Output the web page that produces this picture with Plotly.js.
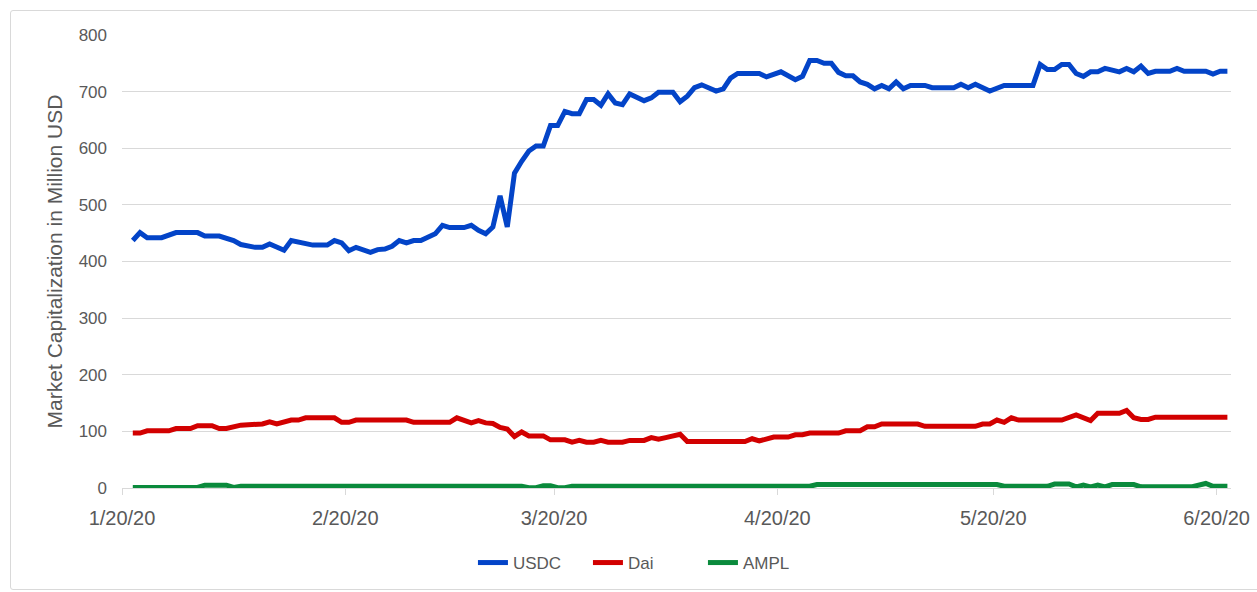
<!DOCTYPE html>
<html>
<head>
<meta charset="utf-8">
<script src="https://cdn.plot.ly/plotly-3.0.1.min.js"></script>
<style>
  html, body { margin: 0; padding: 0; background: #ffffff; }
  #frame { position: absolute; left: 10px; top: 10px; width: 1262px; height: 580px; border: 1px solid #d9d9d9; border-radius: 3px; box-sizing: border-box; }
  #chart { position: absolute; left: 0; top: 0; width: 1257px; height: 592px; }
</style>
</head>
<body>
<div id="frame"></div>
<div id="chart"></div>
<script>
// ---- data ----
const usdcDates = ["2020-01-21","2020-01-22","2020-01-23","2020-01-25","2020-01-27","2020-01-30","2020-01-31","2020-02-02","2020-02-04","2020-02-05","2020-02-07","2020-02-08","2020-02-09","2020-02-11","2020-02-12","2020-02-13","2020-02-14","2020-02-15","2020-02-17","2020-02-18","2020-02-19","2020-02-20","2020-02-21","2020-02-23","2020-02-24","2020-02-25","2020-02-26","2020-02-27","2020-02-28","2020-02-29","2020-03-01","2020-03-02","2020-03-03","2020-03-04","2020-03-05","2020-03-07","2020-03-08","2020-03-09","2020-03-10","2020-03-11","2020-03-12","2020-03-13","2020-03-14","2020-03-15","2020-03-16","2020-03-17","2020-03-18","2020-03-19","2020-03-20","2020-03-21","2020-03-22","2020-03-23","2020-03-24","2020-03-25","2020-03-26","2020-03-27","2020-03-28","2020-03-29","2020-03-30","2020-04-01","2020-04-02","2020-04-03","2020-04-05","2020-04-06","2020-04-07","2020-04-08","2020-04-09","2020-04-11","2020-04-12","2020-04-13","2020-04-14","2020-04-17","2020-04-18","2020-04-20","2020-04-21","2020-04-22","2020-04-23","2020-04-24","2020-04-25","2020-04-26","2020-04-27","2020-04-28","2020-04-29","2020-04-30","2020-05-01","2020-05-02","2020-05-03","2020-05-04","2020-05-05","2020-05-06","2020-05-07","2020-05-08","2020-05-10","2020-05-11","2020-05-14","2020-05-15","2020-05-16","2020-05-17","2020-05-19","2020-05-21","2020-05-25","2020-05-26","2020-05-27","2020-05-28","2020-05-29","2020-05-30","2020-05-31","2020-06-01","2020-06-02","2020-06-03","2020-06-04","2020-06-05","2020-06-06","2020-06-07","2020-06-08","2020-06-09","2020-06-10","2020-06-11","2020-06-13","2020-06-14","2020-06-15","2020-06-18","2020-06-19","2020-06-20","2020-06-21"];
const usdcValues = [437,451,442,442,451,451,445,445,437,430,425,425,431,420,437,435,433,429,429,437,433,419,425,416,421,422,427,437,433,437,437,444,449,464,460,460,464,455,449,461,516,461,556,577,595,604,604,640,640,665,661,661,686,686,676,696,680,677,696,684,689,699,699,682,692,707,712,701,705,724,732,732,726,735,727,721,727,755,755,750,750,734,728,728,717,713,705,711,705,717,705,711,711,707,707,713,707,713,701,711,711,748,739,739,748,748,732,727,735,735,741,739,735,741,735,745,732,736,736,741,736,736,731,736,736];

const daiDates = ["2020-01-21","2020-01-22","2020-01-23","2020-01-26","2020-01-27","2020-01-29","2020-01-30","2020-02-01","2020-02-02","2020-02-03","2020-02-05","2020-02-08","2020-02-09","2020-02-10","2020-02-12","2020-02-13","2020-02-14","2020-02-18","2020-02-19","2020-02-20","2020-02-21","2020-02-28","2020-02-29","2020-03-05","2020-03-06","2020-03-08","2020-03-09","2020-03-10","2020-03-11","2020-03-12","2020-03-13","2020-03-14","2020-03-15","2020-03-16","2020-03-18","2020-03-19","2020-03-21","2020-03-22","2020-03-23","2020-03-24","2020-03-25","2020-03-26","2020-03-27","2020-03-29","2020-03-30","2020-04-01","2020-04-02","2020-04-03","2020-04-04","2020-04-05","2020-04-06","2020-04-07","2020-04-15","2020-04-16","2020-04-17","2020-04-19","2020-04-21","2020-04-22","2020-04-23","2020-04-24","2020-04-28","2020-04-29","2020-05-01","2020-05-02","2020-05-03","2020-05-04","2020-05-09","2020-05-10","2020-05-17","2020-05-18","2020-05-19","2020-05-20","2020-05-21","2020-05-22","2020-05-23","2020-05-29","2020-05-30","2020-05-31","2020-06-02","2020-06-03","2020-06-06","2020-06-07","2020-06-08","2020-06-09","2020-06-10","2020-06-11","2020-06-21"];
const daiValues = [97,97,101,101,105,105,110,110,105,105,111,113,117,113,120,120,124,124,116,116,120,120,116,116,124,115,119,115,114,107,104,91,99,92,92,85,85,81,84,81,81,84,81,81,84,84,89,86,89,91,95,82,82,87,83,90,90,94,94,97,97,101,101,108,108,113,113,109,109,113,113,120,116,124,120,120,125,129,119,132,132,137,124,121,121,125,125];

const amplDates = ["2020-01-21","2020-01-30","2020-01-31","2020-02-03","2020-02-04","2020-02-05","2020-03-15","2020-03-16","2020-03-17","2020-03-18","2020-03-19","2020-03-20","2020-03-21","2020-03-22","2020-04-24","2020-04-25","2020-05-20","2020-05-21","2020-05-27","2020-05-28","2020-05-30","2020-05-31","2020-06-01","2020-06-02","2020-06-03","2020-06-04","2020-06-05","2020-06-08","2020-06-09","2020-06-16","2020-06-18","2020-06-19","2020-06-21"];
const amplValues = [1,1,5,5,1,3,3,0.5,0.5,4,4,0.5,0.5,3,3,6,6,3,3,7,7,2,5,2,5,2,6,6,2,2,8,3,3];

const seriesNames = ["USDC", "Dai", "AMPL"];
const tickDates = ["2020-01-20","2020-02-20","2020-03-20","2020-04-20","2020-05-20","2020-06-20"];
const tickLabels = ["1/20/20","2/20/20","3/20/20","4/20/20","5/20/20","6/20/20"];

// ---- chart ----
const txt = "#595959";
const grid = "#d9d9d9";
const fontFam = "'Liberation Sans', Arial, sans-serif";
const common = { type: "scatter", mode: "lines", xperiod: 86400000, xperiodalignment: "middle", hoverinfo: "x+y+name" };

const traces = [
  Object.assign({}, common, { x: usdcDates, y: usdcValues, name: seriesNames[0], line: { color: "#0344c8", width: 5 } }),
  Object.assign({}, common, { x: daiDates, y: daiValues, name: seriesNames[1], line: { color: "#d20000", width: 5 } }),
  Object.assign({}, common, { x: amplDates, y: amplValues, name: seriesNames[2], line: { color: "#0a8a3c", width: 5 } })
];

const layout = {
  width: 1257, height: 592,
  margin: { l: 122, r: 26, t: 35, b: 103 },
  paper_bgcolor: "rgba(0,0,0,0)",
  plot_bgcolor: "rgba(0,0,0,0)",
  font: { family: fontFam, color: txt, size: 17 },
  showlegend: true,
  legend: {
    orientation: "h", x: 0.472, xanchor: "center", y: -0.163, yanchor: "middle",
    font: { size: 17, color: txt }, bgcolor: "rgba(0,0,0,0)", itemwidth: 30, tracegroupgap: 0,
    entrywidth: 70, entrywidthmode: "pixels"
  },
  xaxis: {
    type: "date",
    range: ["2020-01-20", "2020-06-22"],
    tickmode: "array", tickvals: tickDates, ticktext: tickLabels,
    ticks: "outside", ticklen: 6, tickcolor: grid, tickwidth: 1,
    showline: true, linecolor: grid, linewidth: 1,
    showgrid: false, zeroline: false,
    tickfont: { size: 20, color: txt },
    ticklabelstandoff: 6
  },
  yaxis: {
    range: [0, 800], dtick: 100, tick0: 0,
    showgrid: true, gridcolor: grid, gridwidth: 1,
    zeroline: false, showline: false, ticks: "",
    tickfont: { size: 17, color: txt },
    ticklabelstandoff: 14,
    title: { text: "Market Capitalization in Million USD", font: { size: 21, color: txt }, standoff: 10 }
  }
};

Plotly.newPlot("chart", traces, layout, { displayModeBar: false, staticPlot: true });
</script>
</body>
</html>
